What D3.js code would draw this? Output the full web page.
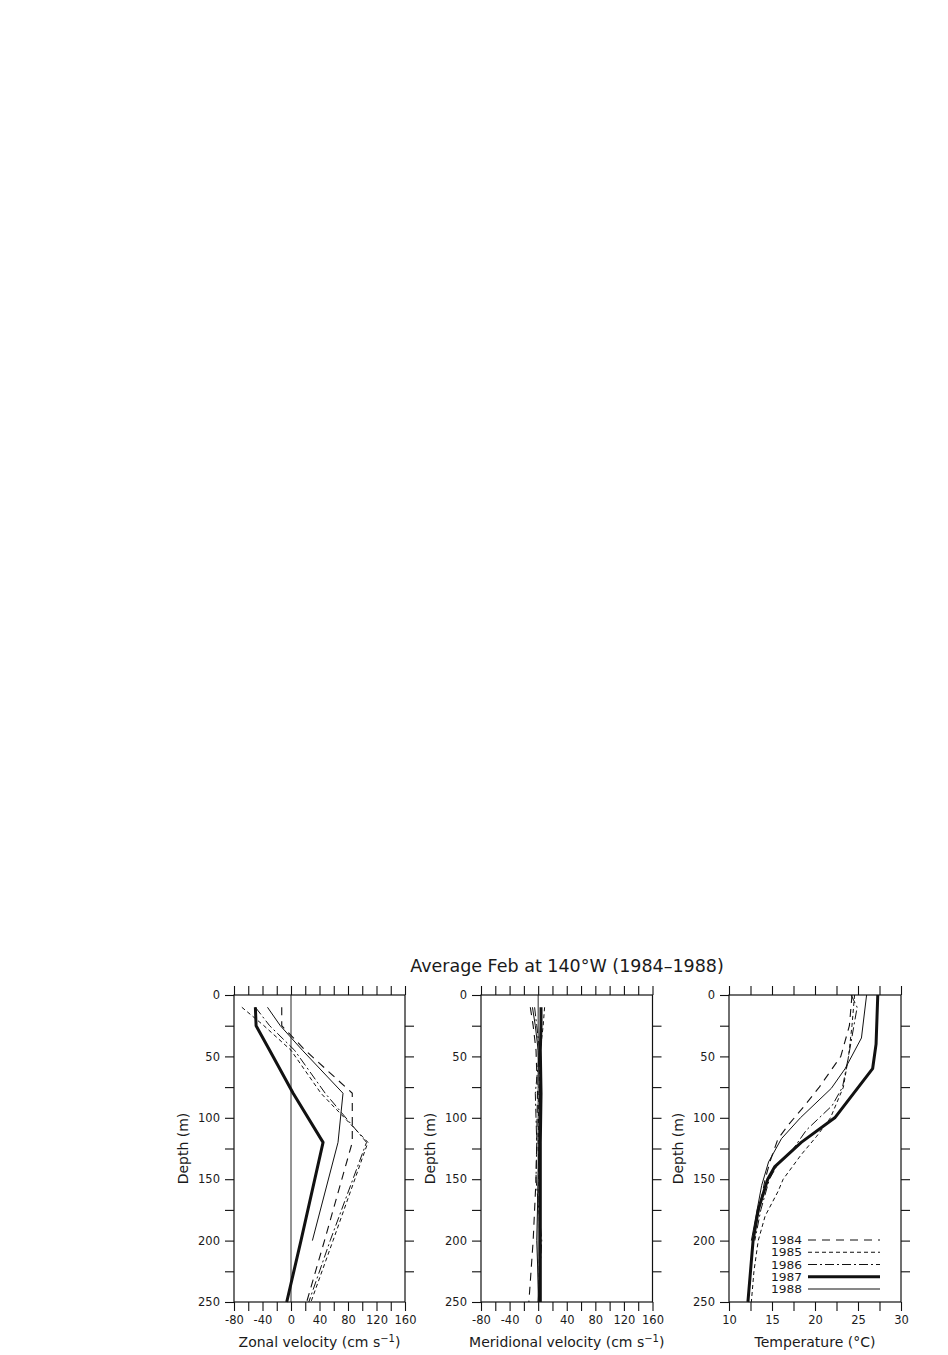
<!DOCTYPE html>
<html>
<head>
<meta charset="utf-8">
<script src="https://cdn.jsdelivr.net/npm/d3@7"></script>
<style>
  html, body { margin: 0; padding: 0; background: #fff; }
  svg { display: block; }
  text { font-family: "DejaVu Sans", sans-serif; fill: #1a1a1a; }
</style>
</head>
<body>
<svg id="chart" width="948" height="1355"></svg>
<script>
// ---------------- DATA ----------------
const years = ["1984", "1985", "1986", "1987", "1988"];
const titleText = "Average Feb at 140°W (1984–1988)";

// Zonal velocity (cm/s): [depth m, value]
const zonal1984 = [[10,-13],[25,-13],[45,20],[80,86],[120,86],[200,47],[250,22]];
const zonal1985 = [[10,-69],[25,-38],[45,0],[80,42],[120,108],[200,59],[250,28]];
const zonal1986 = [[10,-50],[25,-30],[45,5],[80,48],[120,106],[200,55],[250,25]];
const zonal1987 = [[10,-50],[25,-49],[45,-30],[80,3],[120,45],[200,14],[250,-6]];
const zonal1988 = [[10,-33],[25,-15],[45,16],[80,73],[120,66],[200,30]];

// Meridional velocity (cm/s)
const merid1984 = [[10,-11],[25,-7],[45,-3],[80,-1],[120,-2],[150,-3],[200,-7],[250,-13]];
const merid1985 = [[10,9],[25,7],[45,3],[80,1],[120,0],[150,1],[200,2],[250,1]];
const merid1986 = [[10,-5],[25,-2],[45,2],[80,-4],[120,-2],[150,-3],[200,5],[250,0]];
const merid1987 = [[10,4],[25,4],[45,3],[80,4],[120,3],[150,3],[200,3],[250,3]];
const merid1988 = [[10,-8],[25,-4],[45,0],[80,2],[120,1],[150,0],[200,-2],[250,1]];

// Temperature (°C)
const temp1984 = [[0,24.3],[25,24.0],[50,23.0],[75,20.5],[90,18.8],[105,17.0],[117,15.7],[135,14.8],[150,14.2],[175,13.5],[200,12.8]];
const temp1985 = [[0,24.6],[25,24.3],[50,23.9],[75,23.3],[100,21.8],[115,20.2],[130,18.4],[150,16.3],[160,15.7],[180,14.2],[200,13.4],[225,12.9],[250,12.6]];
const temp1986 = [[0,24.2],[10,24.9],[50,23.9],[75,23.2],[90,22.0],[100,20.5],[110,19.0],[125,17.5],[140,15.5],[150,14.7],[175,13.7],[200,13.0]];
const temp1987 = [[0,27.3],[40,27.1],[60,26.7],[100,22.3],[120,18.4],[140,15.3],[150,14.5],[175,13.4],[200,12.8],[250,12.2]];
const temp1988 = [[0,26.0],[35,25.4],[60,23.5],[76,21.9],[100,18.3],[117,16.1],[136,14.6],[155,13.8],[200,12.6]];

const velTicks = [-80,-60,-40,-20,0,20,40,60,80,100,120,140,160];
const velLabels = [-80,-40,0,40,80,120,160];
const tempTicks = [10,12.5,15,17.5,20,22.5,25,27.5,30];
const tempLabels = [10,15,20,25,30];
const depthTicks = [0,25,50,75,100,125,150,175,200,225,250];
const depthLabels = [0,50,100,150,200,250];

// ---------------- STYLES ----------------
const styles = {
  "1984": {w: 1.1, dash: "8,6"},
  "1985": {w: 1.0, dash: "4,3"},
  "1986": {w: 1.0, dash: "9,3,2,3"},
  "1987": {w: 3.0, dash: null},
  "1988": {w: 1.0, dash: null}
};

const svg = d3.select("#chart");
const yTop = 995, yBot = 1302;
const y = d3.scaleLinear().domain([0, 250]).range([yTop, yBot]);

const panels = [
  {left: 234, right: 405, domain: [-80,160], ticks: velTicks, labels: velLabels, zero: true,
   title: "Zonal velocity (cm s", sup: "−1", close: ")",
   series: [zonal1984, zonal1985, zonal1986, zonal1987, zonal1988]},
  {left: 481, right: 652.5, domain: [-80,160], ticks: velTicks, labels: velLabels, zero: true,
   title: "Meridional velocity (cm s", sup: "−1", close: ")",
   series: [merid1984, merid1985, merid1986, merid1987, merid1988]},
  {left: 729, right: 901, domain: [10,30], ticks: tempTicks, labels: tempLabels, zero: false,
   title: "Temperature (°C)", sup: null, close: "",
   series: [temp1984, temp1985, temp1986, temp1987, temp1988]}
];

svg.append("text")
  .attr("x", 567).attr("y", 972)
  .attr("text-anchor", "middle")
  .style("font-size", "17.5px")
  .text(titleText);

const fmt = d => (d < 0 ? "-" : "") + Math.abs(d);

panels.forEach((p, pi) => {
  const x = d3.scaleLinear().domain(p.domain).range([p.left, p.right]);
  const g = svg.append("g");

  const axTop = d3.axisTop(x).tickValues(p.ticks).tickSize(9).tickFormat("");
  const axBot = d3.axisBottom(x).tickValues(p.ticks).tickSize(9).tickPadding(5)
    .tickFormat(d => p.labels.includes(d) ? fmt(d) : "");
  const axLeft = d3.axisLeft(y).tickValues(depthTicks).tickSize(9).tickPadding(5)
    .tickFormat(d => depthLabels.includes(d) ? d : "");
  const axRight = d3.axisRight(y).tickValues(depthTicks.slice(1, -1)).tickSize(9).tickFormat("");

  const styleAxis = sel => {
    sel.select(".domain").remove();
    sel.selectAll("line").attr("stroke", "#111").attr("stroke-width", 1.1);
    sel.selectAll("text").style("font-size", "11.5px").style("font-family", "DejaVu Sans, sans-serif").attr("fill", "#1a1a1a");
  };
  g.append("g").attr("transform", `translate(0,${yTop})`).call(axTop).call(styleAxis);
  g.append("g").attr("transform", `translate(0,${yBot})`).call(axBot).call(styleAxis);
  g.append("g").attr("transform", `translate(${p.left},0)`).call(axLeft).call(styleAxis);
  g.append("g").attr("transform", `translate(${p.right},0)`).call(axRight).call(styleAxis);

  g.append("rect")
    .attr("x", p.left).attr("y", yTop)
    .attr("width", p.right - p.left).attr("height", yBot - yTop)
    .attr("fill", "none").attr("stroke", "#111").attr("stroke-width", 1.2);

  if (p.zero) {
    g.append("line")
      .attr("x1", x(0)).attr("x2", x(0)).attr("y1", yTop).attr("y2", yBot)
      .attr("stroke", "#111").attr("stroke-width", 0.9);
  }

  const line = d3.line().x(d => x(d[1])).y(d => y(d[0]));
  p.series.forEach((s, i) => {
    const st = styles[years[i]];
    g.append("path")
      .datum(s)
      .attr("d", line)
      .attr("fill", "none")
      .attr("stroke", "#111")
      .attr("stroke-width", st.w)
      .attr("stroke-dasharray", st.dash)
      .attr("stroke-linejoin", "round");
  });

  const t = g.append("text")
    .attr("x", (p.left + p.right) / 2).attr("y", 1347)
    .attr("text-anchor", "middle")
    .style("font-size", "14px")
    .text(p.title);
  if (p.sup) {
    t.append("tspan").attr("dy", -5).style("font-size", "10px").text(p.sup);
    t.append("tspan").attr("dy", 5).text(p.close);
  }

  g.append("text")
    .attr("transform", `translate(${p.left - 46},${y(125)}) rotate(-90)`)
    .attr("text-anchor", "middle")
    .style("font-size", "14px")
    .text("Depth (m)");

  if (pi === 2) {
    years.forEach((yr, i) => {
      const ry = 1240 + i * 12.25;
      const st = styles[yr];
      g.append("text")
        .attr("x", 771).attr("y", ry + 4)
        .attr("textLength", 31)
        .attr("lengthAdjust", "spacingAndGlyphs")
        .style("font-size", "10.4px")
        .text(yr);
      g.append("line")
        .attr("x1", 808).attr("x2", 880).attr("y1", ry).attr("y2", ry)
        .attr("stroke", "#111").attr("stroke-width", st.w)
        .attr("stroke-dasharray", st.dash);
    });
  }
});
</script>
</body>
</html>
